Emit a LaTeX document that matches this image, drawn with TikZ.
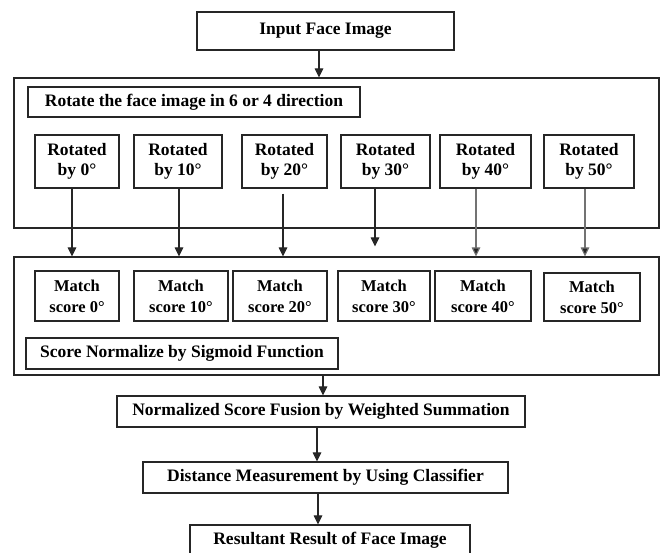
\documentclass[tikz,border=0pt]{standalone}
\usepackage{fontspec}
\setmainfont{Liberation Serif}
\usetikzlibrary{arrows.meta}
\begin{document}
\begin{tikzpicture}[x=1pt,y=-1pt,
  box/.style={draw=black!85, line width=1.1pt, inner sep=0pt, font=\fontsize{17.5}{20.5}\selectfont\bfseries, align=center},
  mbox/.style={box, font=\fontsize{16.5}{21}\selectfont\bfseries},
  frame/.style={draw=black!85, line width=1.1pt, inner sep=0pt},
  arr/.style={draw=black!85, line width=1.1pt, -{Triangle[length=9pt,width=8.5pt]}},
  garr/.style={arr, draw=black!55, -{Triangle[length=9pt,width=8.5pt,fill=black!85]}}]
\useasboundingbox (0,0) rectangle (665,553);
% main boxes
\node[box, minimum width=257pt, minimum height=38pt] (in) at (325.5,31) {Input Face Image};
\node[frame, minimum width=645pt, minimum height=150pt] (outer1) at (336.5,153) {};
\node[box, minimum width=332pt, minimum height=30pt] (rot) at (194,102) {Rotate the face image in 6 or 4 direction};
% rotated boxes
\node[box, minimum width=84pt, minimum height=53pt] (r0) at (77,161.5) {Rotated\\by 0°};
\node[box, minimum width=88pt, minimum height=53pt] (r10) at (178,161.5) {Rotated\\by 10°};
\node[box, minimum width=85pt, minimum height=53pt] (r20) at (284.5,161.5) {Rotated\\by 20°};
\node[box, minimum width=89pt, minimum height=53pt] (r30) at (385.5,161.5) {Rotated\\by 30°};
\node[box, minimum width=91pt, minimum height=53pt] (r40) at (485.5,161.5) {Rotated\\by 40°};
\node[box, minimum width=90pt, minimum height=53pt] (r50) at (589,161.5) {Rotated\\by 50°};
% second frame
\node[frame, minimum width=645pt, minimum height=118pt] (outer2) at (336.5,316) {};
\node[mbox, minimum width=84pt, minimum height=50pt] (m0) at (77,296) {Match\\score 0°};
\node[mbox, minimum width=94pt, minimum height=50pt] (m10) at (181,296) {Match\\score 10°};
\node[mbox, minimum width=94pt, minimum height=50pt] (m20) at (280,296) {Match\\score 20°};
\node[mbox, minimum width=92pt, minimum height=50pt] (m30) at (384,296) {Match\\score 30°};
\node[mbox, minimum width=96pt, minimum height=50pt] (m40) at (483,296) {Match\\score 40°};
\node[mbox, minimum width=96pt, minimum height=48pt] (m50) at (592,297) {Match\\score 50°};
\node[box, minimum width=312pt, minimum height=31pt] (score) at (182,353.5) {Score Normalize by Sigmoid Function};
% lower chain
\node[box, minimum width=408pt, minimum height=31pt] (norm) at (321,411.5) {Normalized Score Fusion by Weighted Summation};
\node[box, minimum width=365pt, minimum height=31pt] (dist) at (325.5,477.5) {Distance Measurement by Using Classifier};
\node[box, minimum width=280pt, minimum height=40pt, text depth=13pt] (res) at (330,545) {Resultant Result of Face Image};
% arrows
\draw[arr] ([xshift=-6.5pt]in.south) -- ([xshift=-6.5pt]in.south |- outer1.north);
\draw[arr] ([xshift=-5pt]r0.south) -- ([xshift=-5pt]r0.south |- outer2.north);
\draw[arr] ([xshift=1pt]r10.south) -- ([xshift=1pt]r10.south |- outer2.north);
\draw[arr] ([xshift=-1.5pt,yshift=-5pt]r20.south) -- ([xshift=-1.5pt]r20.south |- outer2.north);
\draw[arr] ([xshift=-10.5pt]r30.south) -- ([xshift=-10.5pt,yshift=10pt]r30.south |- outer2.north);
\draw[garr] ([xshift=-9.5pt]r40.south) -- ([xshift=-9.5pt]r40.south |- outer2.north);
\draw[garr] ([xshift=-4pt]r50.south) -- ([xshift=-4pt]r50.south |- outer2.north);
\draw[arr] ([xshift=2pt]norm.north |- outer2.south) -- ([xshift=2pt]norm.north);
\draw[arr] ([xshift=-4pt]norm.south) -- ([xshift=-4pt]norm.south |- dist.north);
\draw[arr] ([xshift=-7.5pt]dist.south) -- ([xshift=-7.5pt]dist.south |- res.north);
\end{tikzpicture}
\end{document}
